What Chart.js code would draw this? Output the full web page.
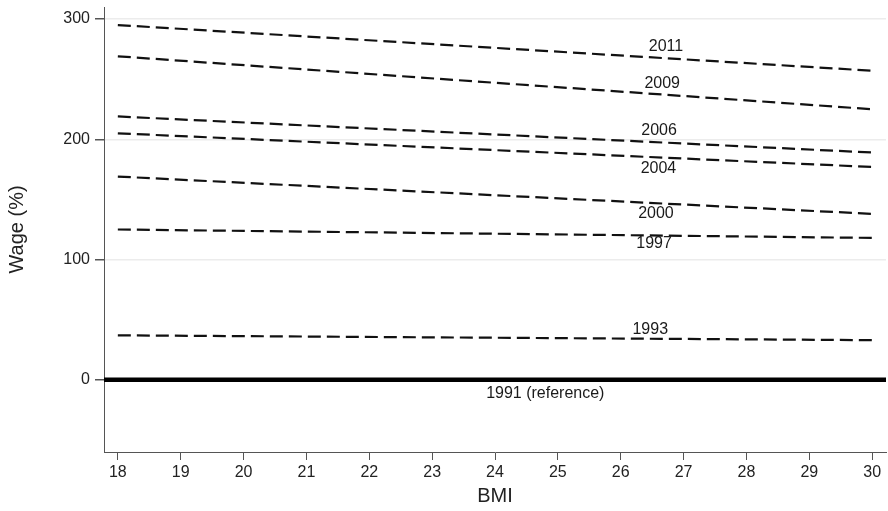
<!DOCTYPE html>
<html>
<head>
<meta charset="utf-8">
<script src="https://cdn.jsdelivr.net/npm/chart.js@4"></script>
<style>
  html, body { margin: 0; padding: 0; background: #fff; }
  #wrap { width: 888px; height: 511px; }
</style>
</head>
<body>
<div id="wrap"><canvas id="wageChart"></canvas></div>
<script>
// BMI range and year lines (read at BMI 18 and 30)
const bmi = [18, 30];
const years = ["2011", "2009", "2006", "2004", "2000", "1997", "1993"];
const wage2011 = [295, 257];
const wage2009 = [269, 225];
const wage2006 = [219, 189];
const wage2004 = [205, 177];
const wage2000 = [169, 138];
const wage1997 = [125, 118];
const wage1993 = [37, 33];
const refLabel = "1991 (reference)";
const refWage = [0, 0];
const xTicks = [18, 19, 20, 21, 22, 23, 24, 25, 26, 27, 28, 29, 30];
const yTicks = [0, 100, 200, 300];

const series = [wage2011, wage2009, wage2006, wage2004, wage2000, wage1997, wage1993];

// where the year labels sit (data coords)
const labelSpots = [
  [26.72, 277], [26.66, 246], [26.61, 207], [26.6, 176],
  [26.56, 138], [26.53, 113], [26.47, 42]
];

const FONT = '"Liberation Sans", Arial, sans-serif';

const datasets = series.map((vals, i) => ({
  label: years[i],
  data: bmi.map((b, j) => ({ x: b, y: vals[j] })),
  borderColor: '#111',
  borderWidth: 2.2,
  borderDash: [13, 6],
  pointRadius: 0,
  showLine: true,
  fill: false
}));

datasets.push({
  label: refLabel,
  data: [{ x: 17, y: refWage[0] }, { x: 31, y: refWage[1] }],
  borderColor: '#000',
  borderWidth: 4.5,
  pointRadius: 0,
  showLine: true,
  fill: false
});

const lineLabels = {
  id: 'lineLabels',
  afterDatasetsDraw(chart) {
    const { ctx, scales: { x, y } } = chart;
    ctx.save();
    ctx.font = '16px ' + FONT;
    ctx.fillStyle = '#1a1a1a';
    ctx.textAlign = 'center';
    ctx.textBaseline = 'middle';
    years.forEach((yr, i) => {
      ctx.fillText(yr, x.getPixelForValue(labelSpots[i][0]), y.getPixelForValue(labelSpots[i][1]));
    });
    ctx.fillText(refLabel, x.getPixelForValue(24.8), y.getPixelForValue(-11.6));
    ctx.restore();
  }
};

new Chart(document.getElementById('wageChart'), {
  type: 'scatter',
  data: { datasets },
  plugins: [lineLabels],
  options: {
    responsive: true,
    maintainAspectRatio: false,
    animation: false,
    layout: { padding: { top: 7, right: 2, left: 0, bottom: 0 } },
    plugins: { legend: { display: false }, tooltip: { enabled: false } },
    scales: {
      x: {
        type: 'linear',
        min: 17.78,
        max: 30.22,
        afterBuildTicks: s => { s.ticks = xTicks.map(v => ({ value: v })); },
        afterFit: s => { s.height = 59; },
        grid: { drawOnChartArea: false, tickLength: 8, tickColor: '#555' },
        border: { color: '#555', width: 1 },
        ticks: { color: '#222', padding: 3, font: { size: 16, family: FONT } },
        title: { display: true, text: 'BMI', color: '#222', padding: { top: 0, bottom: 3 },
                 font: { size: 20, family: FONT } }
      },
      y: {
        min: -60,
        max: 310,
        afterBuildTicks: s => { s.ticks = yTicks.map(v => ({ value: v })); },
        afterFit: s => { s.width = 104; s.paddingTop = 0; s.paddingBottom = 0; },
        grid: { color: '#ececec', lineWidth: 1.5, tickLength: 9, tickColor: '#555' },
        border: { color: '#555', width: 1 },
        ticks: { color: '#222', padding: 5, font: { size: 16, family: FONT } },
        title: { display: true, text: 'Wage (%)', color: '#222', padding: { top: 5, bottom: 0 },
                 font: { size: 20, family: FONT } }
      }
    }
  }
});
</script>
</body>
</html>
